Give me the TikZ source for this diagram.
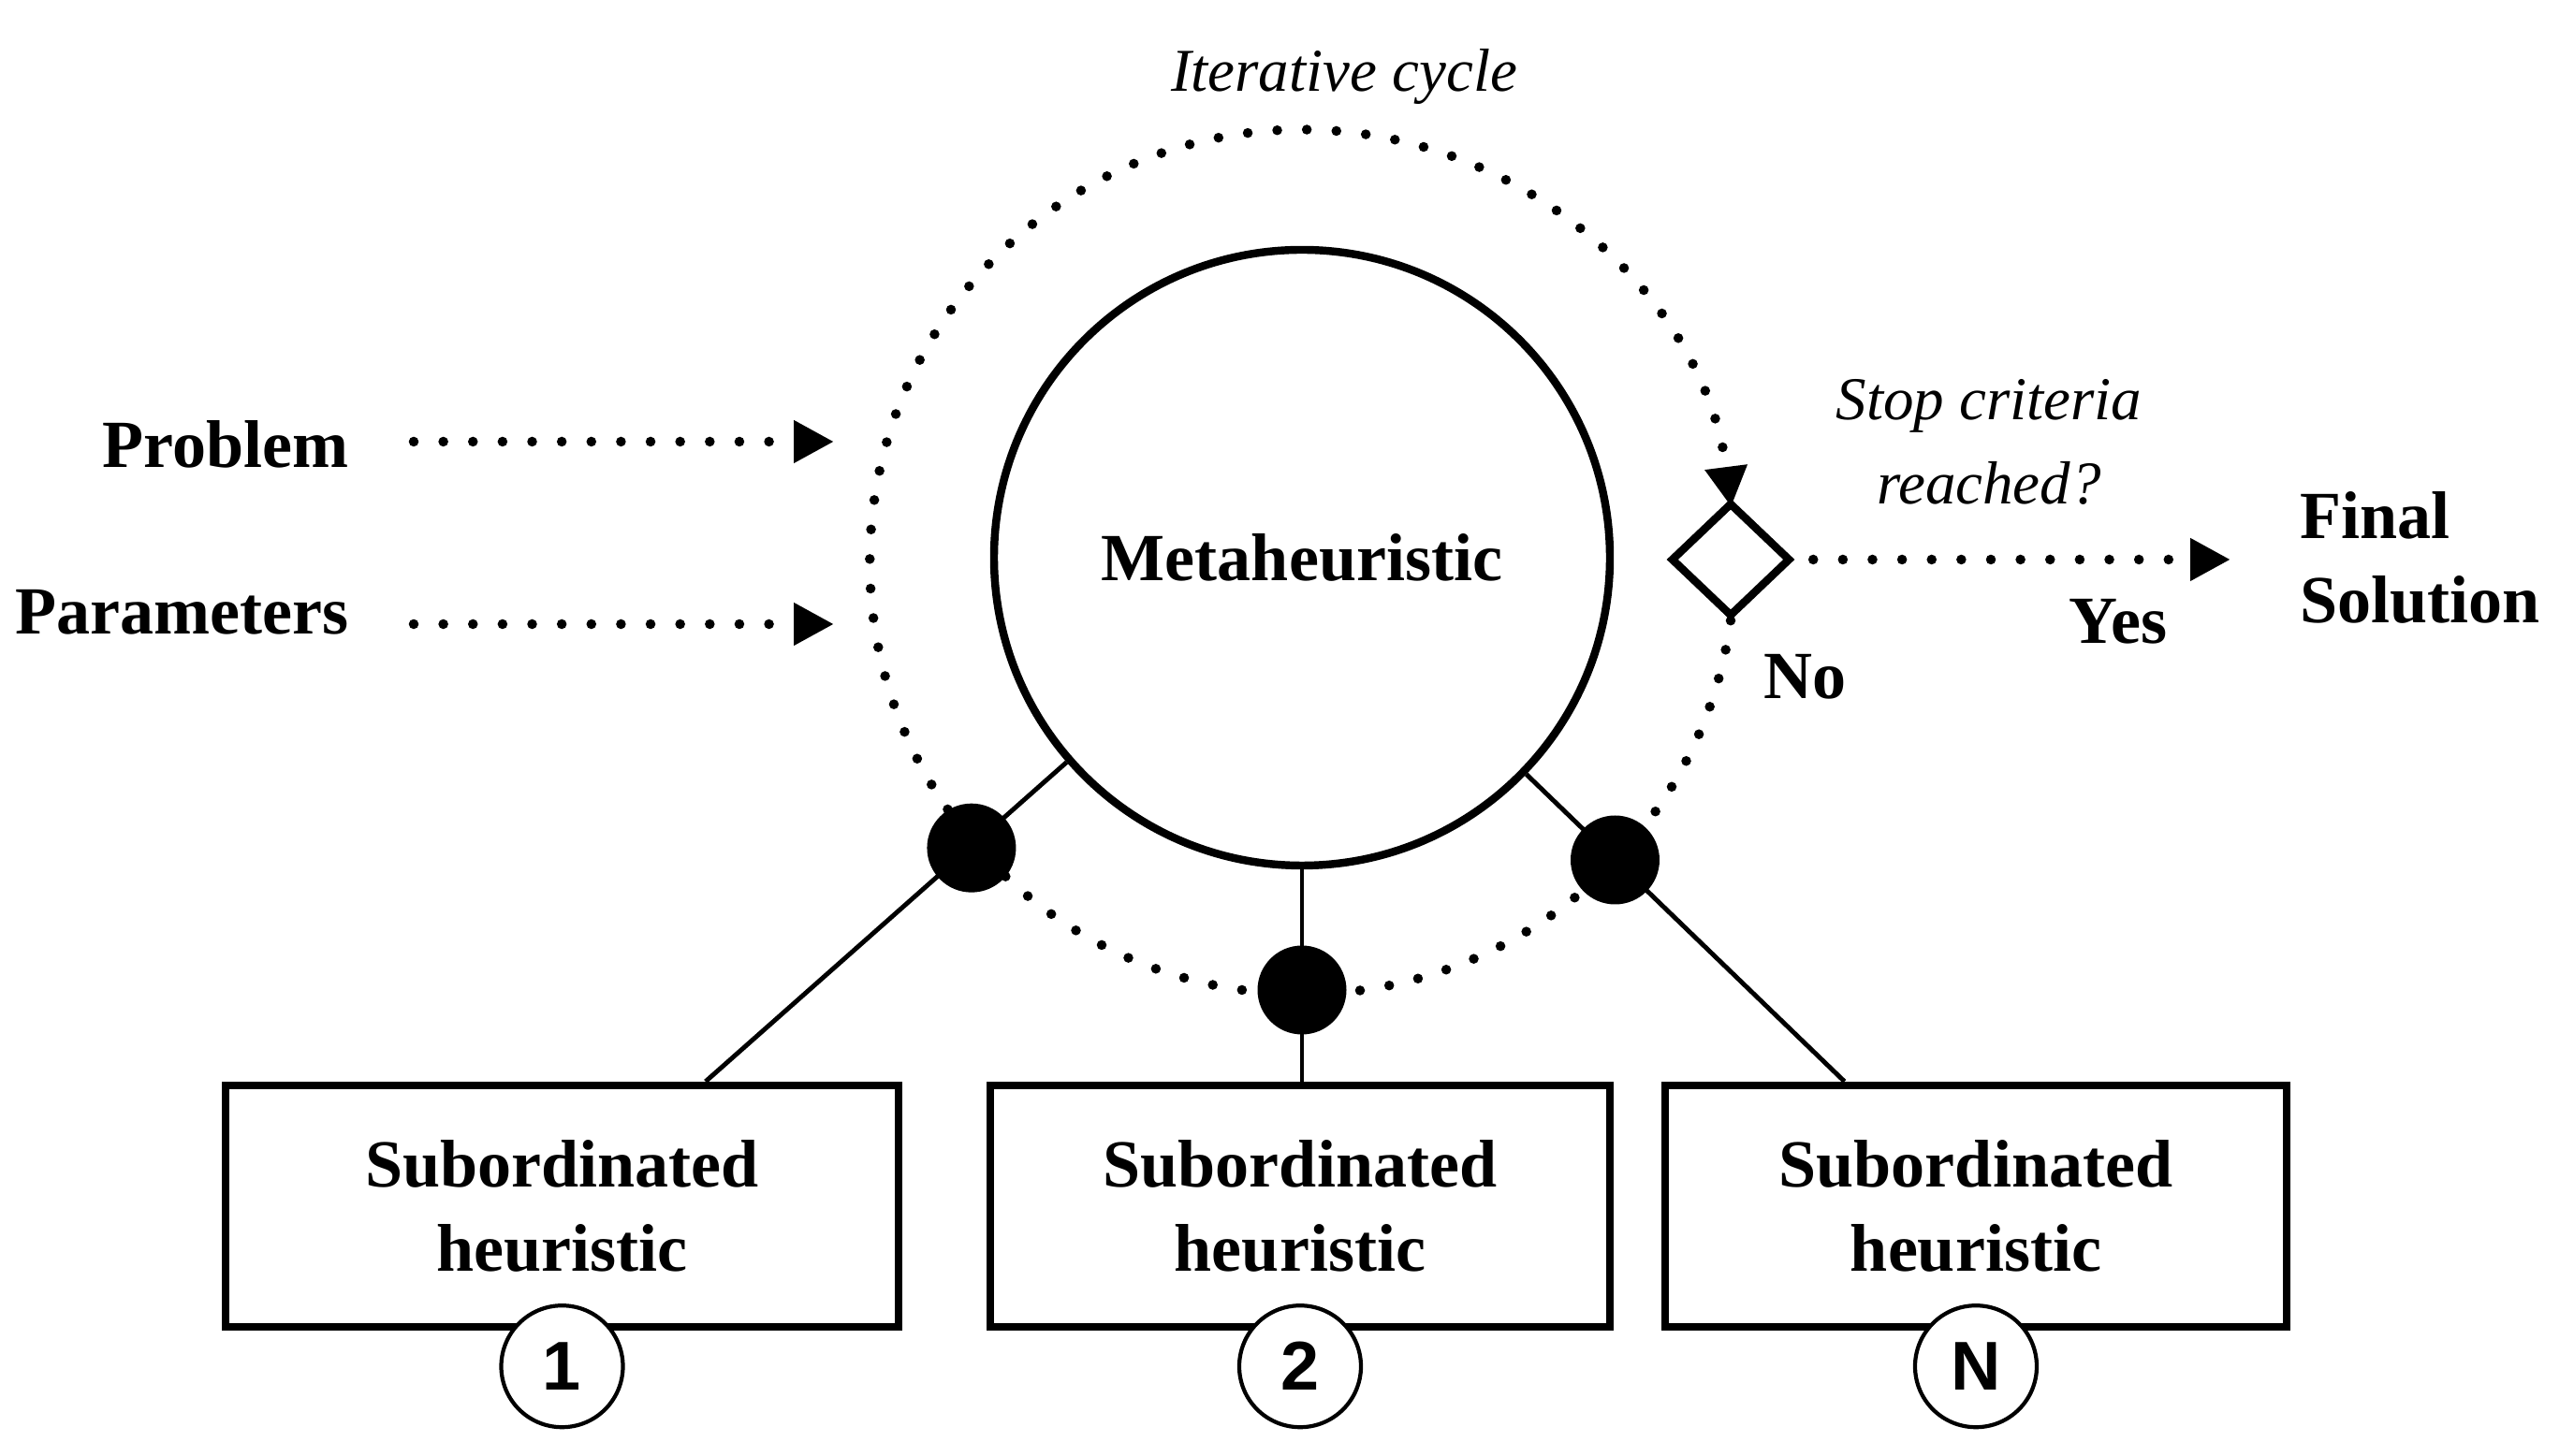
\documentclass[tikz,border=0pt]{standalone}
\usepackage{fontspec}
\setmainfont{Liberation Serif}
\newfontfamily\numfont{Liberation Sans}
\usetikzlibrary{positioning,arrows.meta,shapes.geometric}
\tikzset{
lab/.style={font=\fontsize{20.5}{25.6}\selectfont\bfseries, inner sep=2pt},
note/.style={font=\fontsize{18.5}{25.6}\selectfont\itshape, inner sep=2pt},
mainc/.style={circle, draw=black, line width=2.4pt, minimum size=6.58cm,
  inner sep=0pt, font=\fontsize{20.5}{25.6}\selectfont\bfseries},
decide/.style={diamond, draw=black, line width=2.4pt, minimum width=1.28cm,
  minimum height=1.22cm, inner sep=0pt},
subbox/.style={rectangle, draw=black, line width=2.4pt, minimum height=2.58cm,
  align=center, font=\fontsize{20.5}{25.6}\selectfont\bfseries},
numc/.style={circle, draw=black, fill=white, line width=1.2pt, minimum size=1.3cm,
  inner sep=0pt, font=\fontsize{21}{21}\selectfont\numfont\bfseries},
hub/.style={circle, fill=black, minimum size=0.95cm, inner sep=0pt}
}
\tikzset{
flow/.style={line width=3pt, line cap=round, dash pattern=on 0pt off 9pt,
  -{Triangle[length=4.3mm,width=4.3mm]}},
wire/.style={line width=1.4pt}
}

\begin{document}
\begin{tikzpicture}[>=latex]
\useasboundingbox (0,0) rectangle (27.5,15.56);

\node[mainc] (meta) at (13.91,9.60) {Metaheuristic};
\node[decide] (stop) at (18.49,9.58) {};
\draw[flow] (stop.south) arc[start angle=-7.8, end angle=-352.7, radius=4.62cm];
\node[note, anchor=base] (iter) at (14.36,14.58) {Iterative cycle};

\node[hub] (hub1) at ([shift={(221.3:4.7)}]meta.center) {};
\node[hub] (hub2) at ([shift={(270:4.62)}]meta.center) {};
\node[hub] (hub3) at ([shift={(-44:4.65)}]meta.center) {};

\node[subbox, minimum width=7.19cm] (box1) at (6.005,2.67) {Subordinated\\heuristic};
\node[subbox, minimum width=6.62cm] (box2) at (13.89,2.67) {Subordinated\\heuristic};
\node[subbox, minimum width=6.64cm] (box3) at (21.11,2.67) {Subordinated\\heuristic};

\draw[wire] (meta.221.3) -- (intersection of meta.center--hub1.center and box1.north west--box1.north east);
\draw[wire] (meta.south) -- (meta.south |- box2.north);
\draw[wire] (meta.-44) -- (intersection of meta.center--hub3.center and box3.north west--box3.north east);

\node[numc] (num1) at ([yshift=-3.8mm]box1.south) {1};
\node[numc] (num2) at ([yshift=-3.8mm]box2.south) {2};
\node[numc] (num3) at ([yshift=-3.8mm]box3.south) {N};

\node[lab, anchor=base east] (prob) at (3.80,10.56) {Problem};
\node[lab, anchor=base east] (param) at (3.80,8.78) {Parameters};
\coordinate (probin) at (8.91,10.84);
\coordinate (paramin) at (8.91,8.89);
\draw[flow] ([xshift=6.2mm]prob.east |- probin) -- (probin);
\draw[flow] ([xshift=6.2mm]param.east |- paramin) -- (paramin);

\node[note, align=center] (ask) at (21.25,10.84) {Stop criteria\\reached?};
\node[lab, align=left, anchor=west] (final) at (24.50,9.60) {Final\\Solution};
\coordinate (finalin) at (23.83,9.58);
\draw[flow] ([xshift=2mm]stop.east) -- (finalin);
\node[lab, anchor=base] (yes) at (22.63,8.68) {Yes};
\node[lab, anchor=base west] (no) at (18.77,8.09) {No};
\end{tikzpicture}
\end{document}
